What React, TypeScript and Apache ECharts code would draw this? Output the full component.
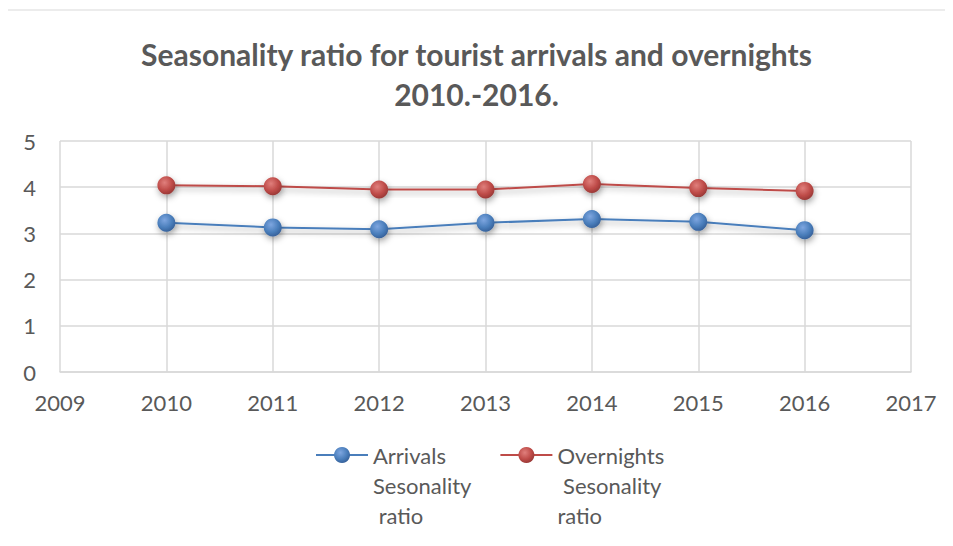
import React, { useEffect, useRef } from "react";
import * as echarts from "echarts";

const years = [2010, 2011, 2012, 2013, 2014, 2015, 2016];
const arrivalsRatio = [3.23, 3.13, 3.09, 3.23, 3.31, 3.25, 3.07];
const overnightsRatio = [4.04, 4.02, 3.95, 3.95, 4.07, 3.98, 3.92];
const seriesNames = ["Arrivals\nSesonality\n ratio", "Overnights\n Sesonality\nratio"];
const titleText = "Seasonality ratio for tourist arrivals and overnights\n2010.-2016.";

const FONT = "Lato, 'Open Sans', sans-serif";
const TEXT = "#595959";
const GRID = "#d9d9d9";

function ball(light: string, mid: string, dark: string) {
  return new echarts.graphic.RadialGradient(0.4, 0.35, 0.7, [
    { offset: 0, color: light },
    { offset: 0.6, color: mid },
    { offset: 1, color: dark },
  ]);
}

export default function App() {
  const ref = useRef<HTMLDivElement>(null);

  useEffect(() => {
    if (!ref.current) return;
    const chart = echarts.init(ref.current, undefined, { renderer: "svg" });
    const shadow = {
      shadowColor: "rgba(0,0,0,0.35)",
      shadowBlur: 6,
      shadowOffsetX: 1,
      shadowOffsetY: 3,
    };
    const makeSeries = (name: string, values: number[], line: string, fill: any) => ({
      name,
      type: "line",
      data: years.map((y, i) => [y, values[i]]),
      symbol: "circle",
      symbolSize: 18,
      lineStyle: { color: line, width: 2, ...shadow },
      itemStyle: { color: fill, borderWidth: 0, ...shadow },
    });
    chart.setOption({
      animation: false,
      backgroundColor: "#ffffff",
      textStyle: { fontFamily: FONT },
      title: {
        text: titleText,
        left: "center",
        top: 29,
        textStyle: {
          fontFamily: FONT,
          fontSize: 30,
          fontWeight: "bold",
          color: TEXT,
          lineHeight: 40,
        },
      },
      graphic: [
        {
          type: "rect",
          shape: { x: 3, y: 10, width: 1000, height: 600 },
          style: { fill: "none", stroke: GRID, lineWidth: 1 },
          silent: true,
        },
      ],
      grid: { left: 60, right: 42, top: 141, bottom: 174 },
      xAxis: {
        type: "value",
        min: 2009,
        max: 2017,
        interval: 1,
        axisLine: { show: true, lineStyle: { color: GRID, width: 1.5 } },
        axisTick: { show: false },
        splitLine: { show: true, lineStyle: { color: GRID, width: 1.5 } },
        axisLabel: {
          color: TEXT,
          fontSize: 22,
          fontFamily: FONT,
          margin: 19,
          formatter: (v: number) => String(v),
        },
      },
      yAxis: {
        type: "value",
        min: 0,
        max: 5,
        interval: 1,
        axisLine: { show: false },
        axisTick: { show: false },
        splitLine: { show: true, lineStyle: { color: GRID, width: 1.5 } },
        axisLabel: { color: TEXT, fontSize: 22, fontFamily: FONT, margin: 24 },
      },
      legend: {
        left: 315,
        top: 380,
        padding: 0,
        itemWidth: 52,
        itemHeight: 20,
        itemGap: 28,
        data: seriesNames,
        // two blank lines keep the first line of each name level with its icon
        formatter: (name: string) => "\n\n" + name,
        textStyle: {
          color: TEXT,
          fontSize: 22,
          fontFamily: FONT,
          lineHeight: 30,
        },
      },
      series: [
        makeSeries(seriesNames[0], arrivalsRatio, "#4a7ebb", ball("#7ea6e0", "#4a7ebb", "#345d96")),
        makeSeries(seriesNames[1], overnightsRatio, "#be4b48", ball("#e07f7c", "#be4b48", "#943634")),
      ],
    });
    return () => chart.dispose();
  }, []);

  return <div ref={ref} style={{ width: 953, height: 546, margin: -8 }} />;
}
